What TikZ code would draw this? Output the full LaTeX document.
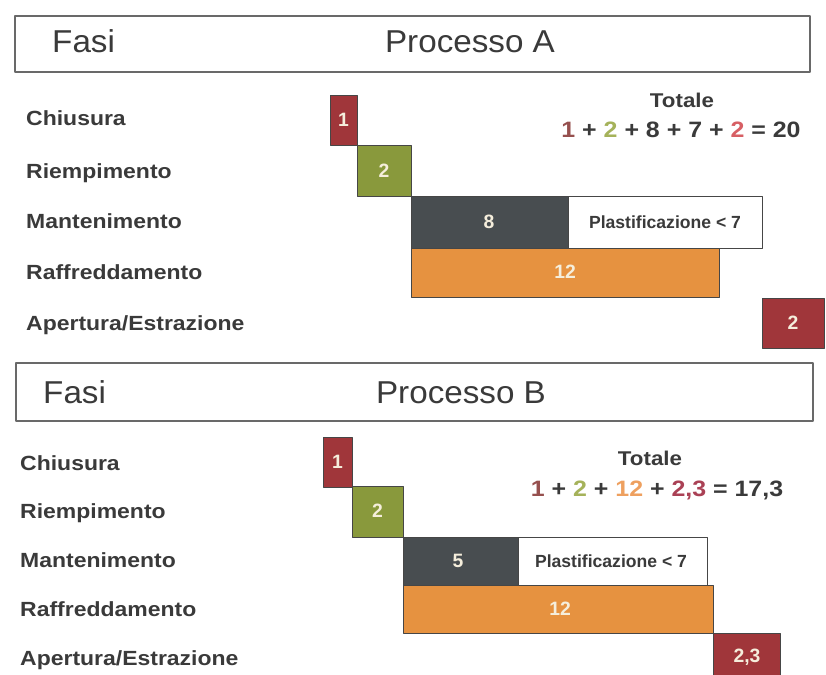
\documentclass[tikz,border=0pt]{standalone}
\usepackage{fontspec}
\setmainfont{Liberation Sans}
\newfontfamily\lblfont[FakeStretch=1.12]{Liberation Sans}
\newfontfamily\hdrfont[FakeStretch=1.05]{Liberation Sans}
\usepackage{tikz}
\definecolor{barred}{RGB}{160,54,58}
\definecolor{barolive}{RGB}{137,153,60}
\definecolor{bardark}{RGB}{72,77,80}
\definecolor{barorange}{RGB}{230,146,64}
\definecolor{numcream}{RGB}{245,238,220}
\definecolor{txtgray}{RGB}{58,58,58}
\definecolor{framegray}{RGB}{105,105,105}
\definecolor{edgegray}{RGB}{70,70,70}
\definecolor{frmred}{RGB}{150,80,78}
\definecolor{frmolive}{RGB}{165,178,90}
\definecolor{frmpink}{RGB}{215,95,100}
\definecolor{frmorange}{RGB}{238,160,95}
\definecolor{frmwine}{RGB}{170,65,85}

\begin{document}
\begin{tikzpicture}[line join=round,x=0.03cm,y=-0.03cm,
  hdrbox/.style={draw=framegray,line width=1.4pt},
  barbox/.style={draw=edgegray,line width=0.6pt},
  hdrtxt/.style={inner sep=0pt,text=txtgray,font=\hdrfont\fontsize{27}{30}\selectfont},
  fase/.style={anchor=base west,inner sep=0pt,text=txtgray,font=\lblfont\bfseries\fontsize{17.5}{20}\selectfont},
  num/.style={inner sep=0pt,text=numcream,font=\bfseries\fontsize{16.5}{18}\selectfont},
  plast/.style={inner sep=0pt,text=txtgray,font=\bfseries\fontsize{15}{18}\selectfont},
  tot/.style={inner sep=0pt,text=txtgray,font=\lblfont\bfseries\fontsize{17}{20}\selectfont},
  formula/.style={inner sep=0pt,text=txtgray,font=\lblfont\bfseries\fontsize{19}{22}\selectfont}]
\useasboundingbox (0,0) rectangle (826,675);
\fill[white] (0,0) rectangle (826,675);

% Processo A
\draw[hdrbox] (15,16) rectangle (810,72);
\node[hdrtxt,anchor=base west] (fasiA) at (52,53) {Fasi};
\node[hdrtxt,anchor=base] (procA) at (470,53) {Processo A};
\node[fase] (chiA) at (26,126) {Chiusura};
\node[fase] (riemA) at (26,178) {Riempimento};
\node[fase] (mantA) at (26,229) {Mantenimento};
\node[fase] (raffA) at (26,279) {Raffreddamento};
\node[fase] (aperA) at (26,330) {Apertura/Estrazione};
\draw[barbox,fill=barred] (330,95) rectangle (357,145);
\draw[barbox,fill=barolive] (357,145) rectangle (411,196);
\draw[barbox,fill=bardark] (411,196) rectangle (568,248);
\draw[barbox,fill=white] (568,196) rectangle (762,248);
\draw[barbox,fill=barorange] (411,248) rectangle (719,297);
\draw[barbox,fill=barred] (762,298) rectangle (824,348);
\node[num] (nA1) at (343.5,120) {1};
\node[num] (nA2) at (384,171) {2};
\node[num] (nA3) at (489,222) {8};
\node[plast] (plA) at (665,222) {Plastificazione < 7};
\node[num] (nA4) at (565,272) {12};
\node[num] (nA5) at (793,323) {2};
\node[tot] (totA) at (682,100) {Totale};
\node[formula] (frmA) at (681,130) {{\color{frmred}1} + {\color{frmolive}2} + 8 + 7 + {\color{frmpink}2} = 20};

% Processo B
\draw[hdrbox] (16,363) rectangle (813,421);
\node[hdrtxt,anchor=base west] (fasiB) at (43,403) {Fasi};
\node[hdrtxt,anchor=base] (procB) at (461,403) {Processo B};
\node[fase] (chiB) at (20,470) {Chiusura};
\node[fase] (riemB) at (20,518) {Riempimento};
\node[fase] (mantB) at (20,567) {Mantenimento};
\node[fase] (raffB) at (20,616) {Raffreddamento};
\node[fase] (aperB) at (20,665) {Apertura/Estrazione};
\draw[barbox,fill=barred] (323,437) rectangle (352,487);
\draw[barbox,fill=barolive] (352,486) rectangle (403,537);
\draw[barbox,fill=bardark] (403,537) rectangle (518,585);
\draw[barbox,fill=white] (518,537) rectangle (707,585);
\draw[barbox,fill=barorange] (403,585) rectangle (713,633);
\draw[barbox,fill=barred] (713,633) rectangle (780,681);
\node[num] (nB1) at (337.5,462) {1};
\node[num] (nB2) at (377.5,511) {2};
\node[num] (nB3) at (458,561) {5};
\node[plast] (plB) at (611,561) {Plastificazione < 7};
\node[num] (nB4) at (560,609) {12};
\node[num] (nB5) at (747,657) {2,3};
\node[tot] (totB) at (650,458) {Totale};
\node[formula] (frmB) at (657,490) {{\color{frmred}1} + {\color{frmolive}2} + {\color{frmorange}12} + {\color{frmwine}2,3} = 17,3};
\end{tikzpicture}
\end{document}
